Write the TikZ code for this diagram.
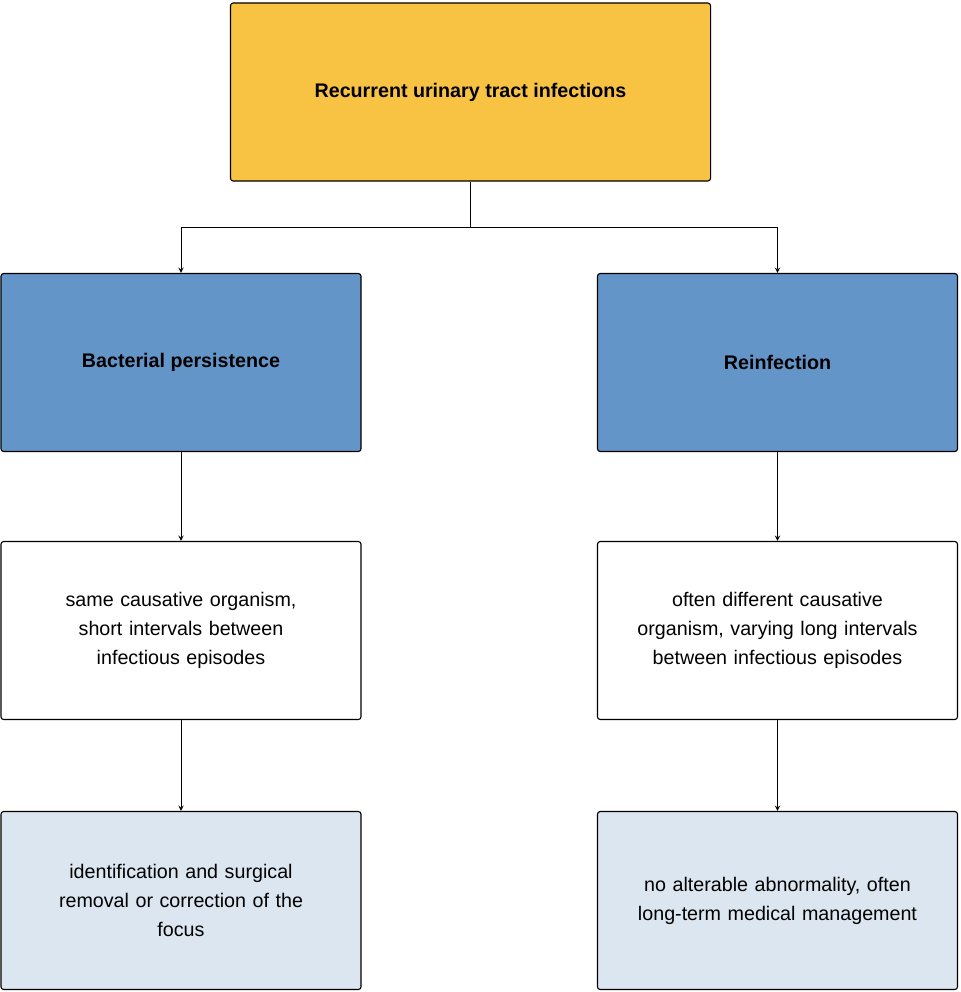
\documentclass[tikz,border=0pt]{standalone}
\usepackage{fontspec}
\setmainfont{Liberation Sans}
\definecolor{topyellow}{HTML}{F8C342}
\definecolor{midblue}{HTML}{6495C9}
\definecolor{paleblue}{HTML}{DCE6F1}
\begin{document}
\begin{tikzpicture}[x=0.025cm,y=-0.025cm,
    box/.style={rectangle, draw, line width=0.8pt, rounded corners=2pt, minimum width=9cm, minimum height=4.45cm, align=center, font=\fontsize{14}{20.5}\selectfont},
    arr/.style={->, >=stealth, line width=0.7pt}]
    \useasboundingbox (0,0) rectangle (960,992);
    % Top
    \node [box, fill=topyellow, minimum width=12cm, font=\bfseries\fontsize{14}{20.5}\selectfont] (recur) at (470.5,92) {Recurrent urinary tract infections};
    % Categories
    \node [box, fill=midblue, font=\bfseries\fontsize{14}{20.5}\selectfont] (persist) at (181,362.5) {Bacterial persistence};
    \node [box, fill=midblue, font=\bfseries\fontsize{14}{20.5}\selectfont] (reinf) at (777.5,362.5) {Reinfection};
    % Features
    \node [box, fill=white, text width=8cm] (same) at (181,630.5) {same causative organism,\\short intervals between\\infectious episodes};
    \node [box, fill=white, text width=8.4cm] (diff) at (777.5,630.5) {often different causative\\organism, varying long intervals\\between infectious episodes};
    % Management
    \node [box, fill=paleblue, text width=8cm] (surg) at (181,900.5) {identification and surgical\\removal or correction of the\\focus};
    \node [box, fill=paleblue, text width=8.4cm] (med) at (777.5,900.5) {no alterable abnormality, often\\long-term medical management};
    % Arrows
    \coordinate (split) at (470.5,227);
    \draw [line width=0.7pt] (recur.south) -- (split);
    \draw [arr] (split) -| (persist.north);
    \draw [arr] (split) -| (reinf.north);
    \draw [arr] (persist) -- (same);
    \draw [arr] (reinf) -- (diff);
    \draw [arr] (same) -- (surg);
    \draw [arr] (diff) -- (med);
\end{tikzpicture}
\end{document}
